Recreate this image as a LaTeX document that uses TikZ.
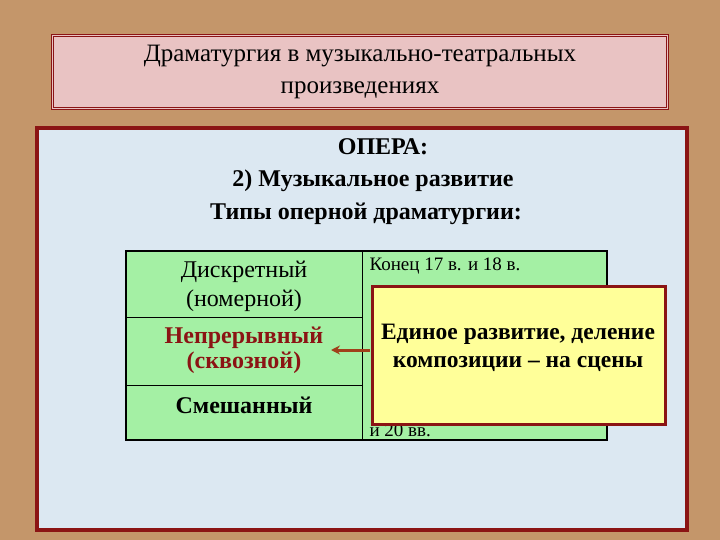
\documentclass[tikz,border=0pt]{standalone}
\usepackage{fontspec}
\usetikzlibrary{arrows.meta}
\setmainfont{Liberation Serif}
\begin{document}
\begin{tikzpicture}[x=1pt,y=-1pt,
  big/.style={font=\fontsize{24}{28}\selectfont\bfseries},
  cell/.style={font=\fontsize{24}{29}\selectfont, align=center},
  small/.style={font=\fontsize{19}{22}\selectfont, anchor=west}]
\definecolor{bg}{HTML}{C4966A}
\definecolor{dred}{HTML}{8B1414}
\definecolor{pinkf}{HTML}{E9C3C3}
\definecolor{bluef}{HTML}{DCE8F2}
\definecolor{greenf}{HTML}{A4F0A4}
\definecolor{yel}{HTML}{FFFF99}
\definecolor{arrc}{HTML}{A0401A}
\useasboundingbox (0,0) rectangle (720,540);
\fill[bg] (0,0) rectangle (720,540);
\node[draw=dred, double=pinkf, double distance=1.5pt, line width=1pt, fill=pinkf, minimum width=615pt, minimum height=73pt, anchor=north west, inner sep=0pt] (title) at (52,35) {};
\node[font=\fontsize{25}{32}\selectfont, align=center] (tt) at (title.center) {Драматургия в музыкально-театральных\\произведениях};
\node[draw=dred, line width=4pt, fill=bluef, minimum width=650pt, minimum height=402pt, anchor=north west, inner sep=0pt] (panel) at (35,126) {};
\node[big] (opera) at (383,147) {ОПЕРА:};
\node[big] (muz) at (373,181) {2) Музыкальное развитие};
\node[big] (typ) at (366,214) {Типы оперной драматургии:};
\fill[greenf] (126,251) rectangle (607,440);
\draw[line width=1.5pt] (126,251) rectangle (607,440);
\draw[line width=1pt] (126,317) -- (362,317) (126,385) -- (362,385) (362,251) -- (362,440);
\node[cell] (d) at (244,286) {Дискретный\\(номерной)};
\node[cell, text=dred, font=\fontsize{24}{25}\selectfont\bfseries] (n) at (244,350) {Непрерывный\\(сквозной)};
\node[cell, font=\fontsize{24}{25}\selectfont\bfseries] (s) at (244,405) {Смешанный};
\node[small] (k) at (366,266) {Конец 17 в. и 18 в.};
\node[small] (v) at (366,430) {и 20 вв.};
\node[draw=dred, line width=3pt, fill=yel, minimum width=293pt, minimum height=138pt, anchor=north west, inner sep=0pt] (y) at (371,285) {};
\node[font=\fontsize{23.5}{28}\selectfont\bfseries, align=center] (yt) at (518,348) {Единое развитие, деление\\композиции – на сцены};
\coordinate (ae) at (331,350);
\coordinate (as) at (370,350);
\draw[arrc, line width=3pt, -{Stealth[length=9pt,width=9pt]}] (as) -- (ae);
\end{tikzpicture}
\end{document}
